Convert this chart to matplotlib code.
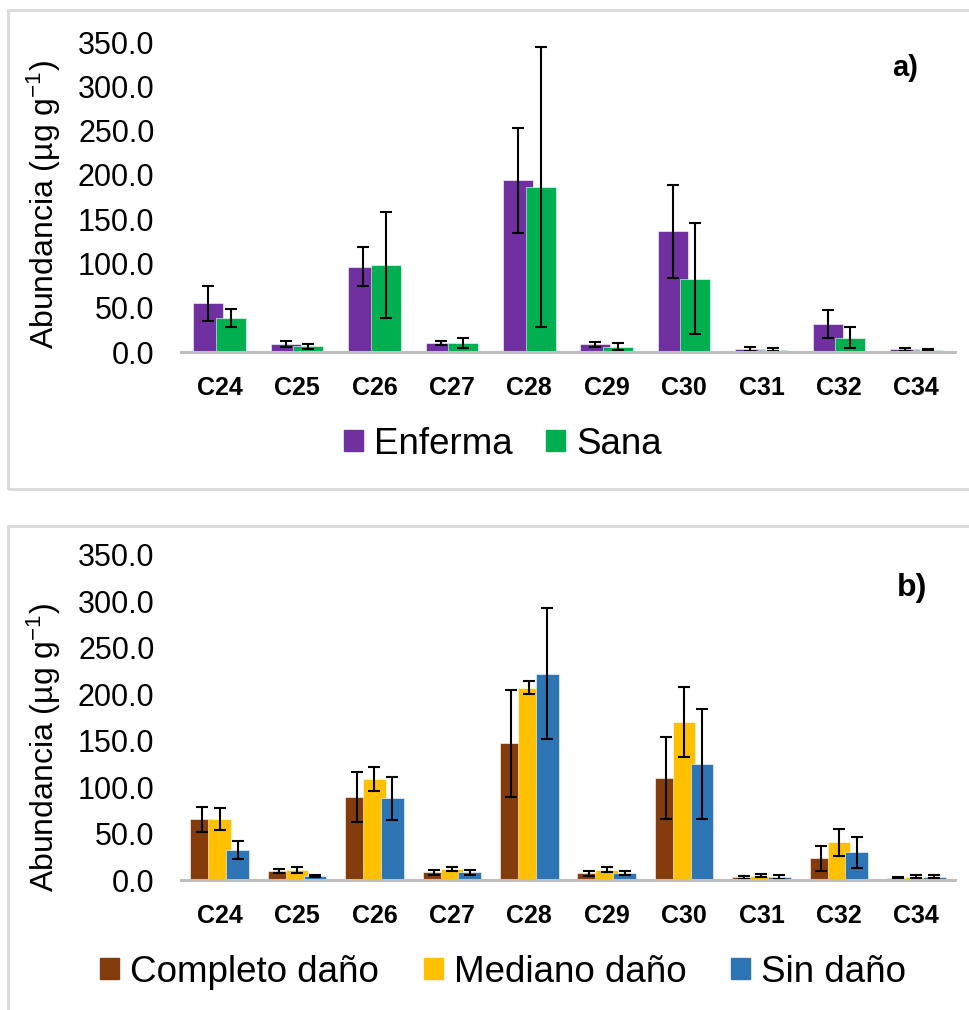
import numpy as np
import matplotlib
matplotlib.use('Agg')
import matplotlib.pyplot as plt
from matplotlib.patches import Rectangle, Patch

plt.rcParams['font.family'] = ['Liberation Sans', 'DejaVu Sans']
plt.rcParams['mathtext.fontset'] = 'custom'
plt.rcParams['mathtext.rm'] = 'Liberation Sans'
plt.rcParams['mathtext.it'] = 'Liberation Sans'

# --- datos -----------------------------------------------------------------
alcanos = ['C24', 'C25', 'C26', 'C27', 'C28', 'C29', 'C30', 'C31', 'C32', 'C34']

enferma = [55.0, 9.0, 96.3, 10.2, 193.8, 9.0, 136.2, 3.7, 31.6, 3.0]
enferma_err = [19.8, 3.6, 22.2, 2.3, 59.6, 2.8, 52.3, 2.5, 15.7, 1.9]
sana = [38.0, 6.4, 97.8, 10.2, 186.6, 6.0, 82.8, 2.6, 16.1, 2.6]
sana_err = [10.0, 2.9, 59.8, 5.6, 158.0, 4.3, 62.3, 1.4, 12.1, 1.2]

completo = [65.4, 9.7, 89.4, 8.3, 147.3, 7.2, 109.9, 2.9, 23.3, 2.2]
completo_err = [13.5, 2.5, 26.5, 2.5, 57.6, 3.0, 44.5, 1.5, 13.3, 0.5]
mediano = [65.4, 11.1, 108.8, 12.2, 207.2, 11.1, 170.6, 4.7, 40.6, 3.6]
mediano_err = [12.0, 3.2, 13.1, 2.0, 6.6, 2.9, 37.6, 2.0, 14.3, 1.5]
sin_dano = [32.3, 4.7, 88.0, 8.3, 222.3, 7.9, 125.0, 3.2, 29.8, 3.6]
sin_dano_err = [9.6, 1.0, 22.9, 2.5, 70.3, 2.1, 59.3, 1.7, 16.6, 1.5]

W, H = 970, 1010
fig = plt.figure(figsize=(W / 100, H / 100), dpi=100)


def px_axes(x0, y_top, x1, y_bot):
    return fig.add_axes([x0 / W, 1 - y_bot / H, (x1 - x0) / W, (y_bot - y_top) / H])


def px_text(x, y, s, **kw):
    fig.text(x / W, 1 - y / H, s, ha='center', va='center', **kw)


# marcos grises de cada gráfico
for (x0, y0, x1, y1) in [(8, 10, 1000, 489), (8, 526, 1000, 1030)]:
    fig.patches.append(Rectangle((x0 / W, 1 - y1 / H), (x1 - x0) / W, (y1 - y0) / H,
                                 transform=fig.transFigure, fill=False,
                                 edgecolor='#D9D9D9', linewidth=2))


def dibujar(ax, series, ancho, paso, ylabel_y):
    x = np.arange(len(alcanos))
    n = len(series)
    for i, (vals, errs, color) in enumerate(series):
        off = (i - (n - 1) / 2) * paso
        ax.bar(x + off, vals, ancho, color=color, edgecolor='white',
               linewidth=0.4, zorder=2)
    for i, (vals, errs, color) in enumerate(series):
        off = (i - (n - 1) / 2) * paso
        ax.errorbar(x + off, vals, yerr=errs, fmt='none', ecolor='black',
                    elinewidth=1.5, capsize=4, capthick=1.5, zorder=3)
    ax.set_xlim(-0.5, len(alcanos) - 0.5)
    ax.set_ylim(0, 350)
    ax.set_yticks(np.arange(0, 351, 50))
    ax.set_yticklabels([f'{v:.1f}' for v in np.arange(0, 351, 50)], fontsize=22)
    ax.set_xticks(x)
    ax.set_xticklabels(alcanos, fontsize=18, fontweight='bold')
    ax.tick_params(axis='both', length=0)
    ax.tick_params(axis='y', pad=19)
    ax.tick_params(axis='x', pad=17)
    for s in ['top', 'right', 'left']:
        ax.spines[s].set_visible(False)
    ax.spines['bottom'].set_color('#BFBFBF')
    ax.spines['bottom'].set_linewidth(2.2)
    ax.spines['bottom'].set_zorder(4)
    ax.set_ylabel('Abundancia (µg g$^{-1}$)', fontsize=23)
    ax.yaxis.set_label_coords(-0.152, ylabel_y)


def leyenda(series, nombres, y, sep):
    fig.legend(handles=[Patch(color=c) for _, _, c in series], labels=nombres,
               loc='center', bbox_to_anchor=(503 / W, 1 - y / H), ncol=len(series),
               frameon=False, fontsize=26.5, handlelength=0.52, handleheight=0.52,
               handletextpad=0.3, columnspacing=sep)


# --- a) planta enferma vs sana ---------------------------------------------
ax1 = px_axes(181, 42, 955, 352)
serie_a = [(enferma, enferma_err, '#7030A0'), (sana, sana_err, '#00B050')]
dibujar(ax1, serie_a, 0.388, 0.293, 0.477)
px_text(905, 68, 'a)', fontsize=21, fontweight='bold')
leyenda(serie_a, ['Enferma', 'Sana'], 444, 0.9)

# --- b) nivel de daño -------------------------------------------------------
ax2 = px_axes(181, 555, 955, 880)
serie_b = [(completo, completo_err, '#843C0C'), (mediano, mediano_err, '#FFC000'),
           (sin_dano, sin_dano_err, '#2E75B6')]
dibujar(ax2, serie_b, 0.293, 0.231, 0.409)
px_text(912, 588, 'b)', fontsize=23, fontweight='bold')
leyenda(serie_b, ['Completo daño', 'Mediano daño', 'Sin daño'], 972, 1.2)

fig.savefig('out.png', dpi=100)
